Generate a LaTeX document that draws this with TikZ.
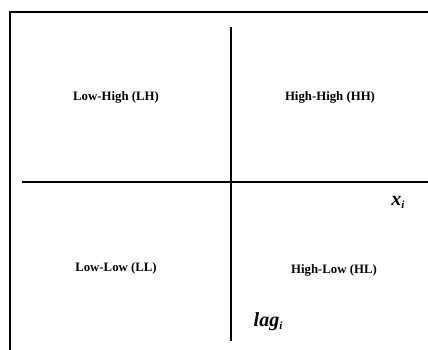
\documentclass[tikz,border=0pt]{standalone}
\usepackage{fontspec}
\setmainfont{Liberation Serif}
\usetikzlibrary{positioning}

\begin{document}
\begin{tikzpicture}[
  x=1pt, y=-1pt,
  frameline/.style={draw=black, line width=2.6pt},
  axisline/.style={draw=black, line width=2.8pt},
  quad/.style={font=\fontsize{12.8}{14}\selectfont\bfseries, inner sep=0pt},
  axlabel/.style={font=\fontsize{20}{22}\selectfont\bfseries\itshape, inner sep=0pt}
]
\useasboundingbox (0,0) rectangle (428,349);

% ============================================================
% Outer frame (runs off the right and bottom edges)
\coordinate (fbl) at (10,352);
\coordinate (ftl) at (10,12);
\coordinate (ftr) at (431,12);
\draw[frameline] (fbl) -- (ftl) -- (ftr);

% ============================================================
% The two axes
\coordinate (hleft) at (22,182);
\coordinate (hright) at (431,182);
\coordinate (vtop) at (231,27);
\coordinate (vbot) at (231,341);
\draw[axisline] (hleft) -- (hright);
\draw[axisline] (vtop) -- (vbot);

% ============================================================
% Quadrant labels
\node[quad] (lh) at (116,97) {Low-High (LH)};
\node[quad] (hh) at (330,97) {High-High (HH)};
\node[quad] (ll) at (116,268) {Low-Low (LL)};
\node[quad] (hl) at (334,270) {High-Low (HL)};

% Axis names
\node[axlabel] (xlab) at (398,202) {x\raisebox{-3pt}{\fontsize{11}{11}\selectfont i}};
\node[axlabel] (laglab) at (268,322) {lag\raisebox{-3pt}{\fontsize{11}{11}\selectfont i}};

\end{tikzpicture}
\end{document}
